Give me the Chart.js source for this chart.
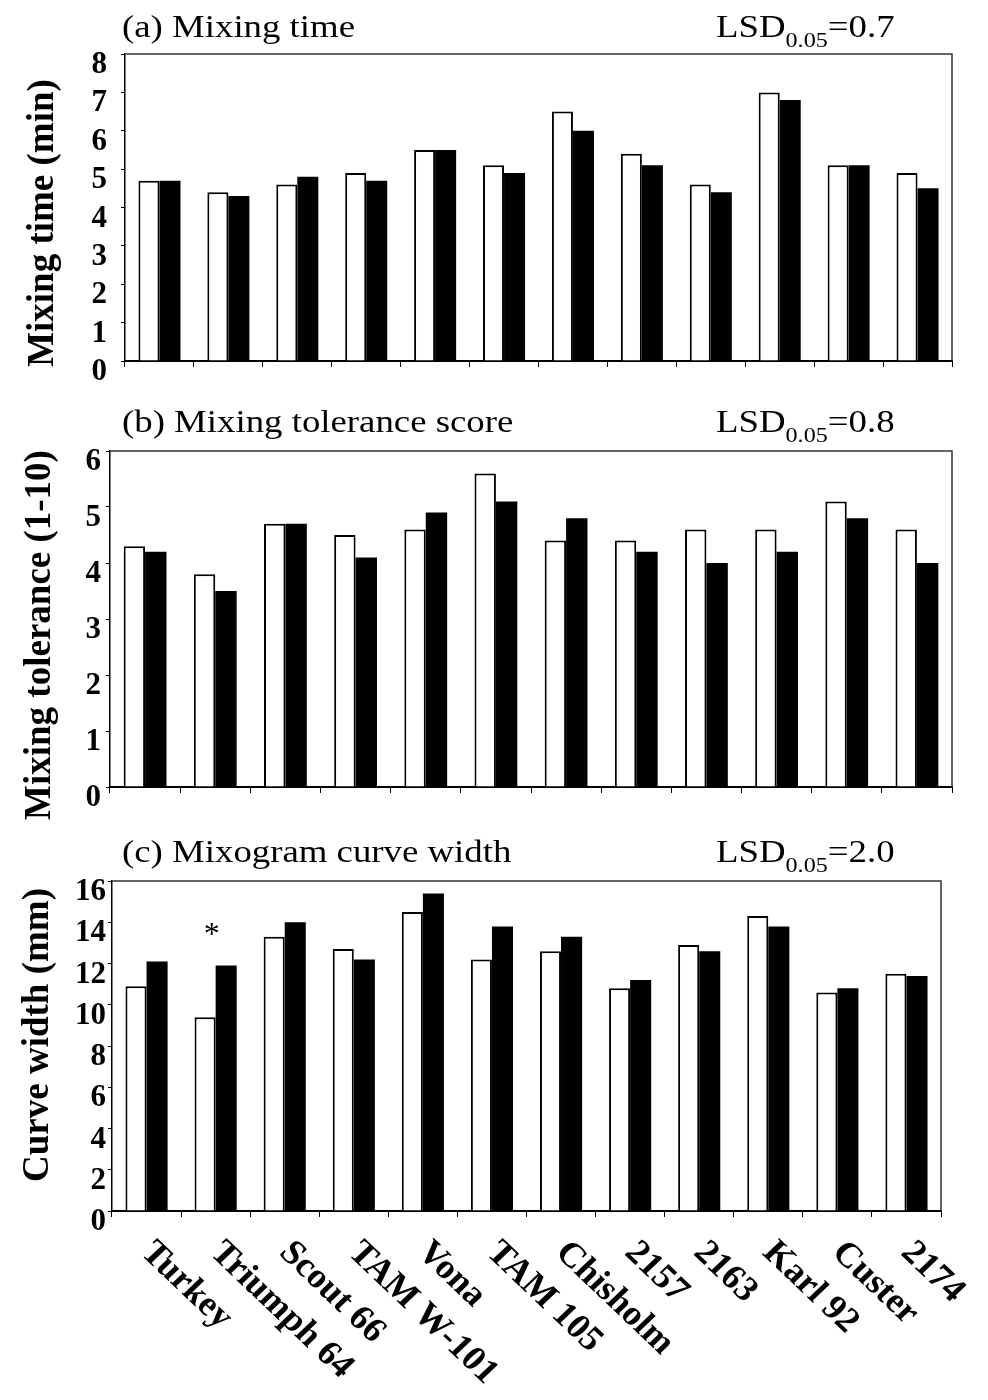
<!DOCTYPE html>
<html><head><meta charset="utf-8">
<script src="https://cdn.jsdelivr.net/npm/chart.js@4/dist/chart.umd.min.js"></script>
<style>
html,body{margin:0;padding:0;background:#fff;}
body{width:988px;height:1400px;position:relative;overflow:hidden;}
.panel{position:absolute;left:0;width:988px;}
canvas{display:block;}
</style></head><body>
<div class="panel" style="top:0;height:400px"><canvas id="ca" width="988" height="400"></canvas></div>
<div class="panel" style="top:400px;height:430px"><canvas id="cb" width="988" height="430"></canvas></div>
<div class="panel" style="top:830px;height:570px"><canvas id="cc" width="988" height="570"></canvas></div>
<script>
// ---- data ----
const cultivars = ['Turkey','Triumph 64','Scout 66','TAM W-101','Vona','TAM 105','Chisholm','2157','2163','Karl 92','Custer','2174'];
const mixTimeWhite = [4.7,4.4,4.6,4.9,5.5,5.1,6.5,5.4,4.6,7.0,5.1,4.9];
const mixTimeBlack = [4.7,4.3,4.8,4.7,5.5,4.9,6.0,5.1,4.4,6.8,5.1,4.5];
const tolWhite = [4.3,3.8,4.7,4.5,4.6,5.6,4.4,4.4,4.6,4.6,5.1,4.6];
const tolBlack = [4.2,3.5,4.7,4.1,4.9,5.1,4.8,4.2,4.0,4.2,4.8,4.0];
const widthWhite = [10.9,9.4,13.3,12.7,14.5,12.2,12.6,10.8,12.9,14.3,10.6,11.5];
const widthBlack = [12.1,11.9,14.0,12.2,15.4,13.8,13.3,11.2,12.6,13.8,10.8,11.4];
const mixTimeTicks = [0,1,2,3,4,5,6,7,8];
const tolTicks = [0,1,2,3,4,5,6];
const widthTicks = [0,2,4,6,8,10,12,14,16];
const titles = ['(a) Mixing time','(b) Mixing tolerance score','(c) Mixogram curve width'];
const lsdValues = ['0.7','0.8','2.0'];
const yTitles = ['Mixing time (min)','Mixing tolerance (1-10)','Curve width (mm)'];
const significant = [1]; // index of cultivar marked with *

const SERIF = '"Liberation Serif","Times New Roman",serif';
const SX = 1.15;

function sText(ctx, text, x, y, font, sx){
  ctx.save(); ctx.font = font; ctx.translate(x,y); ctx.scale(sx,1);
  ctx.textAlign='left'; ctx.textBaseline='alphabetic'; ctx.fillStyle='#000';
  ctx.fillText(text,0,0);
  const w = ctx.measureText(text).width*sx; ctx.restore(); return w;
}

function makeDeco(idx, cfg){
  return {
    id:'deco'+idx,
    afterDraw(chart){
      const ctx = chart.ctx, a = chart.chartArea;
      ctx.save();
      // frame top/right
      ctx.strokeStyle='#333'; ctx.lineWidth=1.5;
      ctx.beginPath(); ctx.moveTo(a.left,a.top); ctx.lineTo(a.right,a.top); ctx.lineTo(a.right,a.bottom); ctx.stroke();
      // panel title
      sText(ctx, titles[idx], 122, cfg.titleY, '32px '+SERIF, SX);
      // LSD
      let x = 716;
      x += sText(ctx, 'LSD', x, cfg.titleY, '32px '+SERIF, SX);
      x += sText(ctx, '0.05', x, cfg.titleY+10, '21px '+SERIF, SX);
      sText(ctx, '='+lsdValues[idx], x, cfg.titleY, '32px '+SERIF, SX);
      // y title
      ctx.save();
      ctx.translate(cfg.yTitleX, cfg.yTitleY); ctx.rotate(-Math.PI/2);
      ctx.font='bold 37px '+SERIF; ctx.textAlign='center'; ctx.textBaseline='middle'; ctx.fillStyle='#000';
      ctx.fillText(yTitles[idx],0,0);
      ctx.restore();
      const xs = chart.scales.x, ys = chart.scales.y;
      if (cfg.marks){
        ctx.font='32px '+SERIF; ctx.textAlign='center'; ctx.textBaseline='middle'; ctx.fillStyle='#000';
        significant.forEach(i=>{
          const top = ys.getPixelForValue(Math.max(cfg.white[i], cfg.black[i]));
          ctx.fillText('*', xs.getPixelForValue(i)-4, top-30);
        });
      }
      if (cfg.xLabels){
        ctx.font='bold 35px '+SERIF; ctx.fillStyle='#000';
        cultivars.forEach((c,i)=>{
          ctx.save();
          ctx.translate(xs.getPixelForValue(i)+13, a.bottom+24);
          ctx.scale(1.05,1);
          ctx.rotate(Math.PI/4);
          ctx.textAlign='left'; ctx.textBaseline='top';
          ctx.fillText(c,0,0);
          ctx.restore();
        });
      }
      ctx.restore();
    }
  };
}

function makePanel(id, idx, white, black, ticks, cfg){
  return new Chart(document.getElementById(id), {
    type:'bar',
    data:{labels:cultivars, datasets:[
      {data:white, backgroundColor:'#fff', borderColor:'#000', borderWidth:{top:2,left:2,right:2,bottom:0}},
      {data:black, backgroundColor:'#000', borderColor:'#000', borderWidth:0}
    ]},
    options:{
      responsive:false, devicePixelRatio:1, animation:false,
      layout:{padding:{top:cfg.padTop, right:cfg.padRight, left:0, bottom:0}},
      plugins:{legend:{display:false}, tooltip:{enabled:false}, title:{display:false}},
      datasets:{bar:{barPercentage:1, categoryPercentage:0.61}},
      scales:{
        x:{
          grid:{display:true, drawOnChartArea:false, drawTicks:true, tickLength:6, color:'#000', lineWidth:1, offset:true},
          border:{display:true, color:'#000', width:2},
          ticks:{display:false},
          afterFit:(s)=>{ s.height = cfg.xh; }
        },
        y:{
          min:ticks[0], max:ticks[ticks.length-1],
          afterBuildTicks:(s)=>{ s.ticks = ticks.map(v=>({value:v})); },
          ticks:{autoSkip:false, font:{family:SERIF, size:31, weight:'bold'}, color:'#000', padding:cfg.tickPad, labelOffset:11},
          grid:{display:true, drawOnChartArea:false, drawTicks:true, tickLength:4, color:'#000', lineWidth:1},
          border:{display:true, color:'#000', width:1.5},
          afterFit:(s)=>{ s.width = cfg.yw; }
        }
      }
    },
    plugins:[makeDeco(idx, Object.assign({white, black}, cfg))]
  });
}

makePanel('ca', 0, mixTimeWhite, mixTimeBlack, mixTimeTicks,
  {padTop:54, padRight:36, xh:39, yw:125, tickPad:14, titleY:37, yTitleX:43, yTitleY:223});
makePanel('cb', 1, tolWhite, tolBlack, tolTicks,
  {padTop:51, padRight:36, xh:43, yw:110, tickPad:5, titleY:32, yTitleX:40, yTitleY:235});
makePanel('cc', 2, widthWhite, widthBlack, widthTicks,
  {padTop:51, padRight:47, xh:189, yw:112, tickPad:2, titleY:32, yTitleX:38, yTitleY:205, marks:true, xLabels:true});
</script>
</body></html>
